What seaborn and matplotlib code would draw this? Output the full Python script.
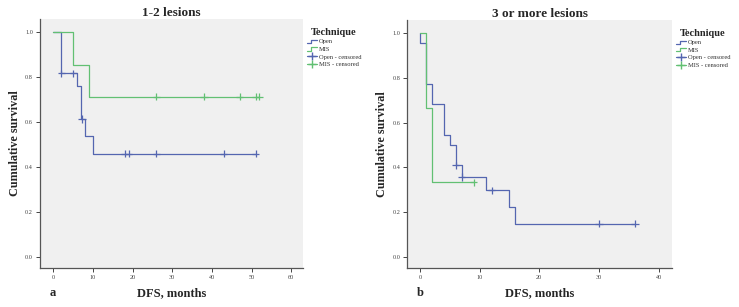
import numpy as np
import pandas as pd
import matplotlib
matplotlib.use("Agg")
import matplotlib.pyplot as plt
from matplotlib.lines import Line2D
from matplotlib.legend_handler import HandlerBase
import seaborn as sns

# 1-2 lesions: Kaplan-Meier steps and censored marks
a_open_t = [0, 2, 6, 7, 8, 10, 51]
a_open_s = [1.0, 0.818, 0.761, 0.614, 0.537, 0.460, 0.460]
a_open_ct = [2, 5, 7.2, 18, 19, 26, 43, 51]
a_open_cs = [0.818, 0.818, 0.614, 0.460, 0.460, 0.460, 0.460, 0.460]
a_mis_t = [0, 5, 9, 52]
a_mis_s = [1.0, 0.857, 0.714, 0.714]
a_mis_ct = [26, 38, 47, 51, 52]
a_mis_cs = [0.714, 0.714, 0.714, 0.714, 0.714]

# 3 or more lesions
b_open_t = [0, 0, 1, 2, 4, 5, 6, 7, 11, 15, 16, 36]
b_open_s = [1.0, 0.955, 0.773, 0.682, 0.545, 0.500, 0.409, 0.358, 0.298, 0.224, 0.149, 0.149]
b_open_ct = [6, 7, 12, 30, 36]
b_open_cs = [0.409, 0.358, 0.298, 0.149, 0.149]
b_mis_t = [0, 1, 2, 9]
b_mis_s = [1.0, 0.667, 0.333, 0.333]
b_mis_ct = [9]
b_mis_cs = [0.333]

titles = ["1-2 lesions", "3 or more lesions"]
panel_tags = ["a", "b"]
xlims = [(-3.4, 63), (-2.1, 42.2)]
xticks = [np.arange(0, 61, 10), np.arange(0, 41, 10)]

BLUE = "#5466b0"
GREEN = "#62c073"
SERIF = ["Liberation Serif", "DejaVu Serif"]


class StepHandler(HandlerBase):
    # little step glyph like in SPSS survival legends
    def create_artists(self, legend, orig_handle, xdescent, ydescent,
                       width, height, fontsize, trans):
        w, h = width, height
        xs = [-xdescent, -xdescent + 0.4 * w, -xdescent + 0.4 * w, -xdescent + w]
        ys = [0.1 * h, 0.1 * h, 0.8 * h, 0.8 * h]
        ln = Line2D(xs, ys, color=orig_handle.get_color(), lw=0.9, transform=trans)
        return [ln]


sns.set_style("white")
plt.rcParams["font.family"] = SERIF

fig = plt.figure(figsize=(7.39, 3.07), dpi=100)
axes = [fig.add_axes([0.0541, 0.127, 0.356, 0.811]),
        fig.add_axes([0.5512, 0.127, 0.358, 0.808])]

panels = [
    (a_open_t, a_open_s, a_open_ct, a_open_cs, a_mis_t, a_mis_s, a_mis_ct, a_mis_cs),
    (b_open_t, b_open_s, b_open_ct, b_open_cs, b_mis_t, b_mis_s, b_mis_ct, b_mis_cs),
]

for i, ax in enumerate(axes):
    ot, os_, oct_, ocs, mt, ms, mct, mcs = panels[i]
    curves = pd.concat([
        pd.DataFrame({"t": ot, "s": os_, "g": "Open"}),
        pd.DataFrame({"t": mt, "s": ms, "g": "MIS"}),
    ])
    cens = pd.concat([
        pd.DataFrame({"t": oct_, "s": ocs, "g": "Open"}),
        pd.DataFrame({"t": mct, "s": mcs, "g": "MIS"}),
    ])
    pal = {"Open": BLUE, "MIS": GREEN}
    for g in ["Open", "MIS"]:
        sub = curves[curves.g == g]
        sns.lineplot(data=sub, x="t", y="s", ax=ax, color=pal[g], lw=0.9,
                     drawstyle="steps-post", sort=False, estimator=None,
                     legend=False)
    sns.scatterplot(data=cens, x="t", y="s", hue="g", palette=pal, ax=ax,
                    marker="+", s=28, linewidth=0.9, legend=False, zorder=3)

    ax.set_facecolor("#f0f0f0")
    ax.set_xlim(*xlims[i])
    ax.set_ylim(-0.05, 1.06)
    ax.set_xticks(xticks[i])
    ax.set_yticks(np.arange(0, 1.01, 0.2))
    ax.set_yticklabels([f"{v:.1f}" for v in np.arange(0, 1.01, 0.2)])
    for side in ["top", "right"]:
        ax.spines[side].set_visible(False)
    for side in ["left", "bottom"]:
        ax.spines[side].set_color("#555555")
        ax.spines[side].set_linewidth(0.9)
    ax.tick_params(axis="both", labelsize=4.5, labelcolor="#444444",
                   color="#444444", length=3, width=0.7, direction="out",
                   bottom=True, left=True, pad=2)
    ax.set_title(titles[i], fontsize=9.5, fontweight="bold", pad=2)
    ax.set_xlabel("DFS, months", fontsize=9, fontweight="bold", labelpad=5)
    ax.set_ylabel("Cumulative survival", fontsize=8.7, fontweight="bold", labelpad=3)
    ax.text(0.035, -0.075, panel_tags[i], transform=ax.transAxes,
            fontsize=9, fontweight="bold", va="top")

    handles = [Line2D([], [], color=BLUE), Line2D([], [], color=GREEN),
               Line2D([], [], color=BLUE, marker="+", lw=0.9, ms=6),
               Line2D([], [], color=GREEN, marker="+", lw=0.9, ms=6)]
    leg = ax.legend(handles, ["Open", "MIS", "Open - censored", "MIS - censored"],
                    title="Technique", loc="upper left", bbox_to_anchor=(1.0, 0.98),
                    frameon=False, fontsize=4.7, title_fontsize=7.5,
                    handlelength=1.6, handletextpad=0.2, labelspacing=0.3,
                    borderaxespad=0.2,
                    handler_map={handles[0]: StepHandler(), handles[1]: StepHandler()})
    leg.get_title().set_fontweight("bold")
    for t in leg.get_texts():
        t.set_color("#333333")

fig.savefig("out.png", dpi=100)
